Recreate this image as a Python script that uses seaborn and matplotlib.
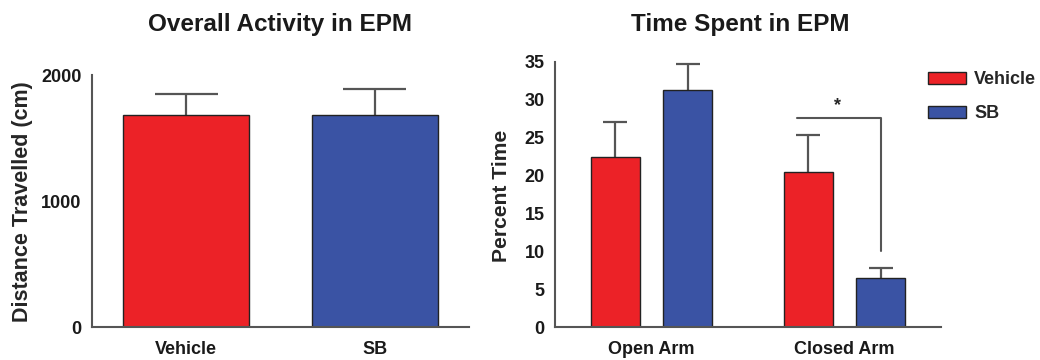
import matplotlib
matplotlib.use("Agg")
import matplotlib.pyplot as plt
import seaborn as sns
import pandas as pd

# ---- data ----
groups_left = ["Vehicle", "SB"]
distance_mean = [1683, 1683]
distance_err = [166, 203]

arms = ["Open Arm", "Closed Arm"]
treatments = ["Vehicle", "SB"]
time_vehicle = [22.4, 20.4]
time_vehicle_err = [4.7, 4.9]
time_sb = [31.3, 6.45]
time_sb_err = [3.35, 1.35]

sig_bracket_x = [0.755, 1.187]
sig_bracket_y = [27.6, 10.0]
sig_label = "*"

RED = "#EC2227"
BLUE = "#3A53A4"
GRAY = "#555555"

sns.set_theme(style="white")
plt.rcParams["font.family"] = ["Liberation Sans", "DejaVu Sans"]
plt.rcParams["font.weight"] = "bold"
plt.rcParams["axes.labelweight"] = "bold"
plt.rcParams["axes.titleweight"] = "bold"

fig = plt.figure(figsize=(10.4, 3.6), dpi=100)
ax1 = fig.add_axes([92 / 1040, 33 / 360, 377 / 1040, 252 / 360])
ax2 = fig.add_axes([555 / 1040, 32.7 / 360, 386 / 1040, 265.6 / 360])

def style_axes(ax):
    for s in ["top", "right"]:
        ax.spines[s].set_visible(False)
    for s in ["left", "bottom"]:
        ax.spines[s].set_color(GRAY)
        ax.spines[s].set_linewidth(1.5)
    ax.tick_params(axis="y", length=6.5, width=1.3, color=GRAY, labelsize=13, pad=1)
    ax.tick_params(axis="x", length=0, labelsize=13, pad=10)
    for lab in ax.get_xticklabels() + ax.get_yticklabels():
        lab.set_fontweight("bold")
        lab.set_color("#1a1a1a")

def add_errbars(ax, patches, errs, lw):
    for p, e in zip(patches, errs):
        x = p.get_x() + p.get_width() / 2
        top = p.get_y() + p.get_height()
        w = p.get_width() / 2
        ax.vlines(x, top, top + e, color=GRAY, lw=lw, zorder=1)
        ax.hlines(top + e, x - w / 2, x + w / 2, color=GRAY, lw=lw, zorder=1)

# ---- left panel ----
df1 = pd.DataFrame({"group": groups_left, "dist": distance_mean})
sns.barplot(data=df1, x="group", y="dist", hue="group", palette=[RED, BLUE],
            width=0.67, errorbar=None, edgecolor="#222222", linewidth=1.0,
            saturation=1, legend=False, ax=ax1, zorder=2)
add_errbars(ax1, ax1.patches, distance_err, 1.6)
ax1.set_xlim(-0.5, 1.5)
ax1.set_ylim(0, 2000)
ax1.set_yticks([0, 1000, 2000])
ax1.set_xlabel("")
ax1.set_ylabel("Distance Travelled (cm)", fontsize=15.5)
ax1.yaxis.set_label_coords(-0.1565, 0.496)
style_axes(ax1)

# ---- right panel ----
df2 = pd.DataFrame({
    "arm": arms * 2,
    "treatment": [treatments[0]] * 2 + [treatments[1]] * 2,
    "pct": time_vehicle + time_sb,
})
sns.barplot(data=df2, x="arm", y="pct", hue="treatment", palette=[RED, BLUE],
            width=0.748, gap=0.33, errorbar=None, edgecolor="#222222",
            linewidth=1.0, saturation=1, ax=ax2, zorder=2)
bars = [p for p in ax2.patches if p.get_height() > 0]
bars = sorted(bars, key=lambda p: p.get_x())
errs_sorted = [time_vehicle_err[0], time_sb_err[0], time_vehicle_err[1], time_sb_err[1]]
add_errbars(ax2, bars, errs_sorted, 1.6)
ax2.set_xlim(-0.5, 1.5)
ax2.set_ylim(0, 35)
ax2.set_yticks(range(0, 36, 5))
ax2.set_xlabel("")
ax2.set_ylabel("Percent Time", fontsize=15.2)
ax2.yaxis.set_label_coords(-0.115, 0.494)
style_axes(ax2)

# titles
fig.text(280.5 / 1040, 1 - 24 / 360, "Overall Activity in EPM", ha="center",
         va="center", fontsize=17.5, fontweight="bold", color="#1a1a1a")
fig.text(740.5 / 1040, 1 - 24 / 360, "Time Spent in EPM", ha="center",
         va="center", fontsize=17.5, fontweight="bold", color="#1a1a1a")

# significance bracket
ax2.plot([sig_bracket_x[0], sig_bracket_x[1], sig_bracket_x[1]],
         [sig_bracket_y[0], sig_bracket_y[0], sig_bracket_y[1]],
         color=GRAY, lw=1.5, zorder=3)
ax2.text((sig_bracket_x[0] + sig_bracket_x[1]) / 2 - 0.005, sig_bracket_y[0] + 0.5,
         sig_label, ha="center", va="bottom", fontsize=13, fontweight="bold")

sns.move_legend(ax2, loc="upper left",
                bbox_to_anchor=(928 / 1040, 1 - 71 / 360),
                bbox_transform=fig.transFigure,
                title=None, frameon=False, fontsize=13,
                handlelength=2.1, handleheight=0.65, labelspacing=0.95,
                handletextpad=0.45, borderaxespad=0.0, borderpad=0.0)
for t in ax2.get_legend().get_texts():
    t.set_fontweight("bold")

fig.savefig("out.png", dpi=100, facecolor="white")
